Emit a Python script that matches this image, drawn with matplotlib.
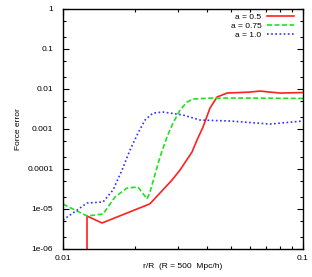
import numpy as np
import matplotlib
matplotlib.use("Agg")
import matplotlib.pyplot as plt
from matplotlib.ticker import LogLocator, FixedLocator, FixedFormatter, NullFormatter

plt.rcParams['font.family'] = ['Liberation Sans', 'DejaVu Sans']

# a = 0.5 (red, solid)
r05 = [0.01259, 0.01259, 0.01454, 0.01762, 0.02239, 0.02304, 0.02536, 0.02846,
       0.03073, 0.03447, 0.03617, 0.03831, 0.04097, 0.04382, 0.04825, 0.06015,
       0.0662, 0.0802, 0.1]
e05 = [1e-8, 6.65e-6, 4.45e-6, 7.05e-6, 1.25e-5, 1.35e-5, 2.49e-5, 5.26e-5,
       9.33e-5, 2.62e-4, 5.23e-4, 1.1e-3, 3.28e-3, 6.18e-3, 7.77e-3, 8.22e-3,
       8.71e-3, 7.77e-3, 8.0e-3]

# a = 0.75 (green, dashed)
r075 = [0.01, 0.01259, 0.01468, 0.01647, 0.01848, 0.02054, 0.02239, 0.02304,
        0.02536, 0.02712, 0.02873, 0.03073, 0.03286, 0.0348, 0.04097, 0.06015, 0.1]
e075 = [1.32e-5, 6.65e-6, 7.46e-6, 1.98e-5, 3.32e-5, 3.52e-5, 1.77e-5, 2.64e-5,
        1.97e-4, 6.21e-4, 1.39e-3, 2.92e-3, 4.64e-3, 5.51e-3, 5.83e-3, 5.83e-3, 5.7e-3]

# a = 1.0 (blue, dotted)
r10 = [0.01, 0.0110, 0.01259, 0.01468, 0.01616, 0.01762, 0.01902, 0.02054,
       0.02196, 0.02371, 0.0261, 0.03162, 0.03723, 0.04965, 0.0729, 0.1]
e10 = [5.29e-6, 7.9e-6, 1.4e-5, 1.49e-5, 2.96e-5, 9.33e-5, 2.94e-4, 7.8e-4,
       1.65e-3, 2.46e-3, 2.61e-3, 2.2e-3, 1.65e-3, 1.56e-3, 1.31e-3, 1.56e-3]

ytick_vals = [1, 0.1, 0.01, 0.001, 0.0001, 1e-05, 1e-06]
ytick_labels = ['1', '0.1', '0.01', '0.001', '0.0001', '1e-05', '1e-06']
xtick_vals = [0.01, 0.1]
xtick_labels = ['0.01', '0.1']

fig = plt.figure(figsize=(3.12, 2.77), dpi=100)
ax = fig.add_axes([63/312, 1 - 249/277, 240/312, 240.5/277])

ax.plot(r05, e05, color='#ff2020', lw=1.2, label='a = 0.5')
ax.plot(r075, e075, color='#20e020', lw=1.2, dashes=(3, 1.5), label='a = 0.75')
ax.plot(r10, e10, color='#3030ff', lw=1.2, dashes=(1, 1.5), label='a = 1.0')

ax.set_xscale('log')
ax.set_yscale('log')
ax.set_xlim(0.01, 0.1)
ax.set_ylim(1e-6, 1)

ax.yaxis.set_major_locator(FixedLocator(ytick_vals))
ax.yaxis.set_major_formatter(FixedFormatter(ytick_labels))
ax.yaxis.set_minor_locator(LogLocator(base=10, subs=(2, 5), numticks=20))
ax.yaxis.set_minor_formatter(NullFormatter())
ax.xaxis.set_major_locator(FixedLocator(xtick_vals))
ax.xaxis.set_major_formatter(FixedFormatter(xtick_labels))
ax.xaxis.set_minor_locator(LogLocator(base=10, subs=np.arange(2, 10), numticks=20))
ax.xaxis.set_minor_formatter(NullFormatter())

ax.tick_params(which='both', direction='in', top=True, right=True, labelsize=6, width=0.8)
ax.tick_params(which='major', length=4)
ax.tick_params(which='minor', length=2.5)
ax.tick_params(axis='y', which='major', pad=7)
ax.tick_params(axis='x', which='major', pad=4)
for s in ax.spines.values():
    s.set_linewidth(1.0)

ax.set_xlabel('r/R  (R = 500  Mpc/h)', fontsize=6, labelpad=1)
ax.set_ylabel('Force error', fontsize=6, labelpad=4)

ax.legend(loc='upper right', bbox_to_anchor=(294/312, 1 - 13/277),
          bbox_transform=fig.transFigure, frameon=False, fontsize=6,
          markerfirst=False, handlelength=3.2, handletextpad=0.7,
          labelspacing=0.15, borderpad=0, borderaxespad=0)

fig.savefig('out.png', dpi=100)
